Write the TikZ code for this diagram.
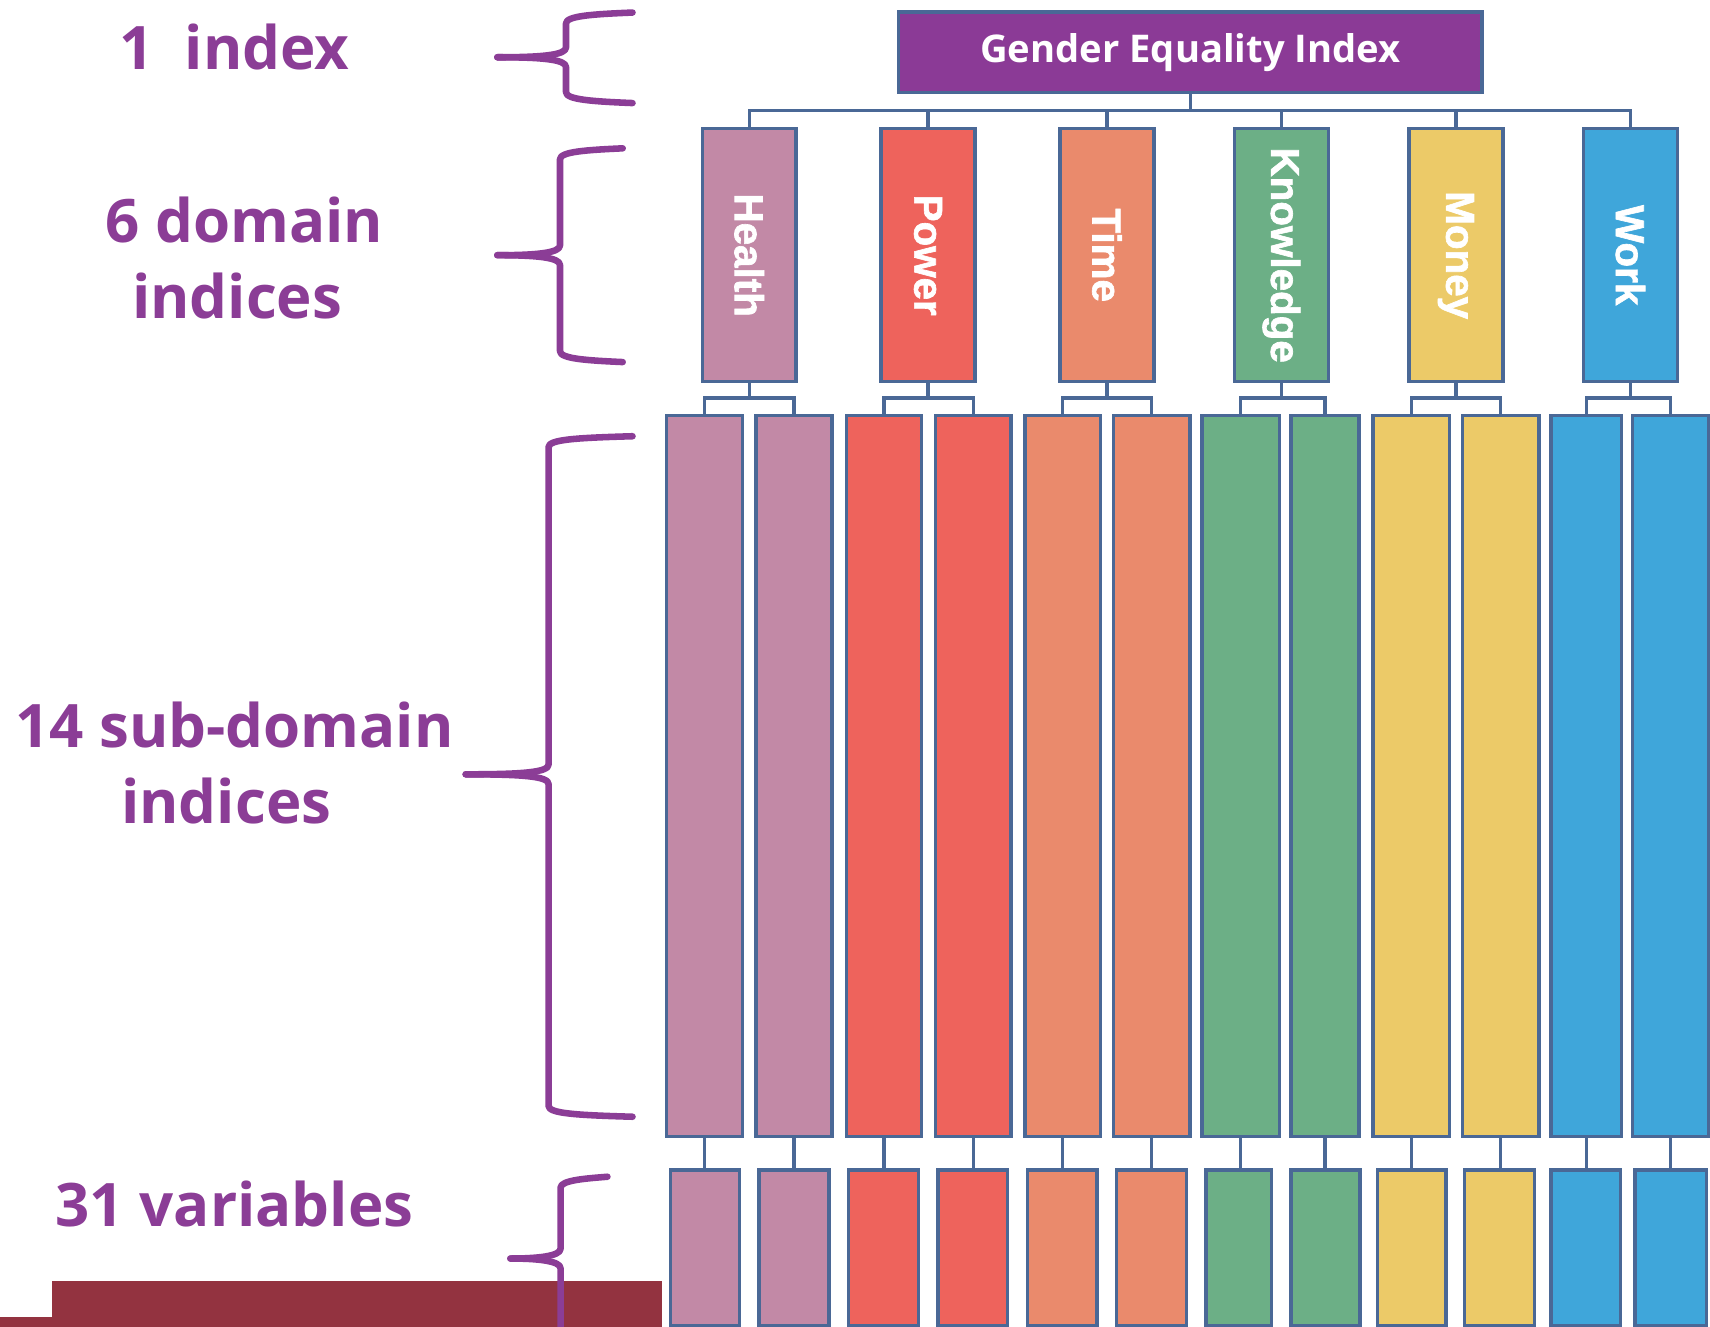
\documentclass[tikz,border=0pt]{standalone}
\usepackage{fontspec}
\setmainfont{Open Sans}
\newfontfamily\domfont{Liberation Sans}[BoldFeatures={FakeBold=1.6}]
\usetikzlibrary{calc}

\definecolor{lblpurple}{RGB}{139,61,150}
\definecolor{geipurple}{RGB}{139,58,150}
\definecolor{edgeblue}{RGB}{74,104,150}
\definecolor{chealth}{RGB}{194,137,166}
\definecolor{cpower}{RGB}{238,99,92}
\definecolor{ctime}{RGB}{234,138,108}
\definecolor{cknow}{RGB}{108,175,134}
\definecolor{cmoney}{RGB}{236,202,104}
\definecolor{cwork}{RGB}{63,166,218}
\definecolor{barred}{RGB}{147,51,64}

% curly bracket: right x, spine x, tip x, top y, tip y, bottom y
\newcommand{\gbrace}[6]{%
  \draw[bracestyle] (#1,#4) .. controls ({#2+25},{#4+1.5}) and (#2,{#4+3}) .. (#2,{#4+10})
    -- (#2,{#5-9}) .. controls (#2,{#5-2}) and ({#2-22},#5) .. (#3,#5);
  \draw[bracestyle] (#3,#5) .. controls ({#2-22},#5) and (#2,{#5+2}) .. (#2,{#5+9})
    -- (#2,{#6-10}) .. controls (#2,{#6-3}) and ({#2+25},{#6-1.5}) .. (#1,#6);
}

\begin{document}
\begin{tikzpicture}[x=1pt,y=-1pt,
  box/.style={draw=edgeblue, line width=3.2pt, inner sep=0pt, outer sep=0pt},
  dombox/.style={box, minimum width=86, minimum height=232},
  subbox/.style={box, minimum height=661},
  varbox/.style={box, minimum height=143},
  conn/.style={draw=edgeblue, line width=3pt},
  bracestyle/.style={draw=lblpurple, line width=6pt, line cap=round, line join=round},
  lbl/.style={text=lblpurple, font=\fontsize{55}{66}\selectfont\bfseries, inner sep=0pt, anchor=base},
  domlbl/.style={text=white, font=\domfont\fontsize{37}{44}\selectfont\bfseries, rotate=-90, inner sep=0pt},
]
\useasboundingbox (0,0) rectangle (1568,1216);
\fill[white] (0,0) rectangle (1568,1216);
\clip (0,0) rectangle (1568,1216);

% ---- level labels ----
\node[lbl] (l-index) at (215,64) {1\ \ index};
\node[lbl] (l-dom1) at (224,222) {6 domain};
\node[lbl] (l-dom2) at (217.5,292) {indices};
\node[lbl] (l-sub1) at (215,685) {14 sub-domain};
\node[lbl] (l-sub2) at (207.5,755) {indices};
\node[lbl] (l-var) at (215,1125) {31 variables};

% ---- footer bar ----
\fill[barred] (48,1175) rectangle (607,1220);
\fill[barred] (0,1207.5) rectangle (48,1220);

% ---- braces ----
\gbrace{580}{519}{456}{11.5}{52.5}{94.5}
\gbrace{571}{513.5}{456}{136}{234}{332}
\gbrace{580}{503}{427}{400}{710}{1024}
\gbrace{557}{514}{468}{1079}{1154}{1320}

% ---- top index ----
\node[box, fill=geipurple, minimum width=535, minimum height=74,
      text=white, font=\fontsize{35}{42}\selectfont\bfseries] (gei) at (1091.5,48) {Gender Equality Index};

% ---- domains ----
\node[dombox, fill=chealth] (health) at (687,234) {};
\node[dombox, fill=cpower]  (power)  at (851,234) {};
\node[dombox, fill=ctime]   (time)   at (1015,234) {};
\node[dombox, fill=cknow]   (know)   at (1175,234) {};
\node[dombox, fill=cmoney]  (money)  at (1335,234) {};
\node[dombox, fill=cwork]   (work)   at (1495,234) {};
\node[domlbl] (health-t) at (health.center) {Health};
\node[domlbl] (power-t)  at (power.center)  {Power};
\node[domlbl] (time-t)   at (time.center)   {Time};
\node[domlbl] (know-t)   at (know.center)   {Knowledge};
\node[domlbl] (money-t)  at (money.center)  {Money};
\node[domlbl] (work-t)   at (work.center)   {Work};

% ---- sub-domains ----
\node[subbox, fill=chealth, minimum width=70] (s1)  at (646,711.5) {};
\node[subbox, fill=chealth, minimum width=70] (s2)  at (728,711.5) {};
\node[subbox, fill=cpower,  minimum width=69] (s3)  at (810.5,711.5) {};
\node[subbox, fill=cpower,  minimum width=69] (s4)  at (892.5,711.5) {};
\node[subbox, fill=ctime,   minimum width=69] (s5)  at (974.5,711.5) {};
\node[subbox, fill=ctime,   minimum width=70] (s6)  at (1056,711.5) {};
\node[subbox, fill=cknow,   minimum width=71] (s7)  at (1137.5,711.5) {};
\node[subbox, fill=cknow,   minimum width=62] (s8)  at (1215,711.5) {};
\node[subbox, fill=cmoney,  minimum width=70] (s9)  at (1294,711.5) {};
\node[subbox, fill=cmoney,  minimum width=70] (s10) at (1376,711.5) {};
\node[subbox, fill=cwork,   minimum width=65] (s11) at (1454.5,711.5) {};
\node[subbox, fill=cwork,   minimum width=70] (s12) at (1532,711.5) {};

% ---- variables ----
\node[varbox, fill=chealth, minimum width=63] (v1)  at (646.5,1144.5) {};
\node[varbox, fill=chealth, minimum width=64] (v2)  at (728,1144.5) {};
\node[varbox, fill=cpower,  minimum width=64] (v3)  at (810,1144.5) {};
\node[varbox, fill=cpower,  minimum width=64] (v4)  at (892,1144.5) {};
\node[varbox, fill=ctime,   minimum width=64] (v5)  at (974,1144.5) {};
\node[varbox, fill=ctime,   minimum width=64] (v6)  at (1056,1144.5) {};
\node[varbox, fill=cknow,   minimum width=60] (v7)  at (1136,1144.5) {};
\node[varbox, fill=cknow,   minimum width=63] (v8)  at (1215.5,1144.5) {};
\node[varbox, fill=cmoney,  minimum width=63] (v9)  at (1294.5,1144.5) {};
\node[varbox, fill=cmoney,  minimum width=64] (v10) at (1375,1144.5) {};
\node[varbox, fill=cwork,   minimum width=64] (v11) at (1454,1144.5) {};
\node[varbox, fill=cwork,   minimum width=66] (v12) at (1532,1144.5) {};

% ---- index to domains ----
\coordinate (bus) at (1091.5,101);
\draw[conn] (gei.south) -- (bus);
\draw[conn] (health.north) |- (bus) -| (work.north);
\foreach \d in {power,time,know,money}
  \draw[conn] (\d.north) -- (\d.north |- bus);

% ---- domains to sub-domains ----
\foreach \d/\a/\b in {health/s1/s2, power/s3/s4, time/s5/s6, know/s7/s8, money/s9/s10, work/s11/s12}{
  \draw[conn] (\d.south) -- ($(\d.south)+(0,15)$);
  \draw[conn] (\a.north) |- ($(\d.south)+(0,15)$) -| (\b.north);
}

% ---- sub-domains to variables ----
\foreach \k in {1,...,12}
  \draw[conn] (s\k.south) -- (s\k.south |- v\k.north);
\end{tikzpicture}
\end{document}
